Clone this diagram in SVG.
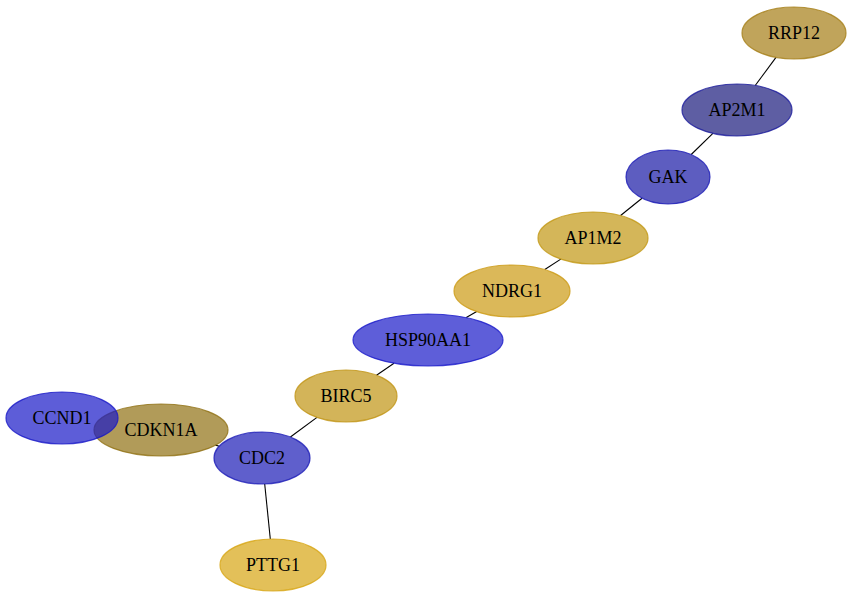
<svg xmlns="http://www.w3.org/2000/svg" width="853" height="599" viewBox="0 0 853 599">
<style>
.n ellipse{stroke-width:1.2;fill-opacity:0.7;stroke-opacity:0.8}
.n text{font-family:"Liberation Serif","Times New Roman",serif;font-size:18px;text-anchor:middle;fill:#000}
.e line{stroke:#000;stroke-width:1.1}
</style>
<rect width="853" height="599" fill="#fff"/>
<g id="edges" class="e">
<line x1="776" y1="57.4" x2="755.2" y2="85.5"/>
<line x1="712.9" y1="133.4" x2="691.2" y2="154.5"/>
<line x1="642" y1="198.2" x2="620.6" y2="215.5"/>
<line x1="560.8" y1="259.1" x2="544.8" y2="269.5"/>
<line x1="476.7" y1="311.6" x2="466.3" y2="317.6"/>
<line x1="394" y1="363.2" x2="376.5" y2="375.2"/>
<line x1="317" y1="417.4" x2="290.4" y2="437"/>
<line x1="219.3" y1="446.2" x2="215.5" y2="445.1"/>
<line x1="264.7" y1="484" x2="270.3" y2="539"/>
</g>
<g id="RRP12" class="n"><ellipse cx="794" cy="33" rx="52" ry="26" fill="#a57e16" stroke="#a57e16"/><text x="794" y="39">RRP12</text></g>
<g id="AP2M1" class="n"><ellipse cx="737" cy="110" rx="55" ry="26" fill="#1a1a7c" stroke="#1a1a9c"/><text x="737" y="116">AP2M1</text></g>
<g id="GAK" class="n"><ellipse cx="668" cy="177" rx="42" ry="27" fill="#1818a5" stroke="#1818b5"/><text x="668" y="183">GAK</text></g>
<g id="AP1M2" class="n"><ellipse cx="593" cy="238" rx="55" ry="26" fill="#c29713" stroke="#c29713"/><text x="593" y="244">AP1M2</text></g>
<g id="NDRG1" class="n"><ellipse cx="512" cy="291" rx="58" ry="26" fill="#cc9a13" stroke="#cc9a13"/><text x="512" y="297">NDRG1</text></g>
<g id="HSP90AA1" class="n"><ellipse cx="428" cy="340" rx="75" ry="26" fill="#1919c9" stroke="#1919c9"/><text x="428" y="346">HSP90AA1</text></g>
<g id="BIRC5" class="n"><ellipse cx="346" cy="396" rx="51" ry="26" fill="#c09413" stroke="#c09413"/><text x="346" y="402">BIRC5</text></g>
<g id="CDKN1A" class="n"><ellipse cx="161" cy="430" rx="67" ry="26" fill="#907013" stroke="#907013"/><text x="161" y="436">CDKN1A</text></g>
<g id="CCND1" class="n"><ellipse cx="62" cy="418" rx="56" ry="26" fill="#1818c7" stroke="#1818c7"/><text x="62" y="424">CCND1</text></g>
<g id="CDC2" class="n"><ellipse cx="262" cy="458" rx="48" ry="26" fill="#1b1bb6" stroke="#1b1bb6"/><text x="262" y="464">CDC2</text></g>
<g id="PTTG1" class="n"><ellipse cx="273" cy="565" rx="53" ry="26" fill="#d7a513" stroke="#d7a513"/><text x="273" y="571">PTTG1</text></g>
</svg>
